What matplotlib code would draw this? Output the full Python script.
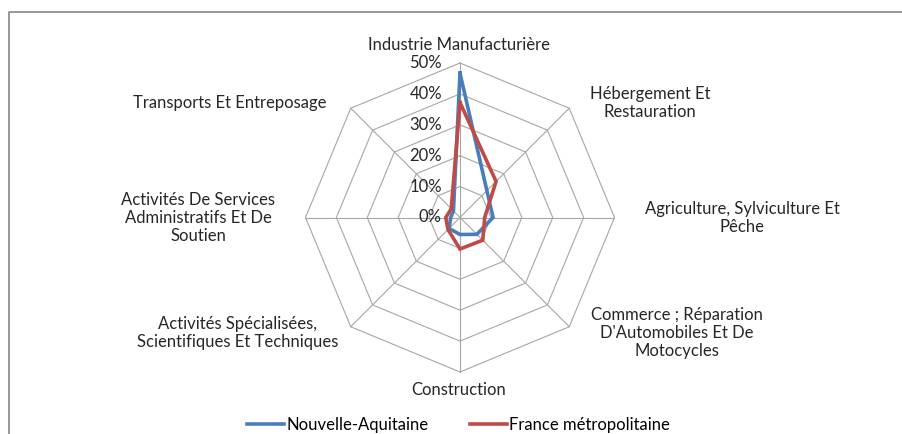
import numpy as np
import matplotlib.pyplot as plt
from matplotlib.lines import Line2D

plt.rcParams['font.family'] = ['Lato', 'DejaVu Sans']

# secteurs, dans le sens horaire en partant du haut
categories = [
    "Industrie Manufacturière",
    "Hébergement Et\nRestauration",
    "Agriculture, Sylviculture Et\nPêche",
    "Commerce ; Réparation\nD'Automobiles Et De\nMotocycles",
    "Construction",
    "Activités Spécialisées,\nScientifiques Et Techniques",
    "Activités De Services\nAdministratifs Et De\nSoutien",
    "Transports Et Entreposage",
]
nouvelle_aquitaine = [46.7, 12.3, 10.7, 7.7, 5.5, 5.0, 3.0, 3.0]
france_metro = [37.2, 16.5, 8.0, 10.4, 10.2, 5.5, 4.6, 4.0]
rings = [0, 10, 20, 30, 40, 50]
tick_labels = ["0%", "10%", "20%", "30%", "40%", "50%"]

W, H = 903, 434
cx, cy, R = 460, 217.5, 154.5          # centre et rayon du cercle 50% en pixels
s = rings[-1] / R                      # % par pixel
fs = 12

fig = plt.figure(figsize=(W / 100, H / 100), dpi=100)
ax = fig.add_axes([0, 0, 1, 1])
ax.set_xlim(-cx * s, (W - cx) * s)
ax.set_ylim(-(H - cy) * s, cy * s)
ax.axis('off')


def px(x, y):
    # position pixel -> coordonnées données
    return (x - cx) * s, (cy - y) * s


n = len(categories)
theta = np.arange(n) * 2 * np.pi / n
sx, sy = np.sin(theta), np.cos(theta)

grid_color = '#a6a6a6'
for r in rings[1:]:
    ax.plot(np.append(r * sx, r * sx[0]), np.append(r * sy, r * sy[0]),
            color=grid_color, lw=0.8, zorder=1)
for i in range(n):
    ax.plot([0, rings[-1] * sx[i]], [0, rings[-1] * sy[i]],
            color=grid_color, lw=0.8, zorder=1)

for vals, col in [(nouvelle_aquitaine, '#4a7ebb'), (france_metro, '#be4b48')]:
    v = np.array(vals + vals[:1])
    t = np.append(theta, theta[0])
    ax.plot(v * np.sin(t), v * np.cos(t), color=col, lw=2.6,
            solid_joinstyle='miter', zorder=3)

# graduations
for r, lab in zip(rings, tick_labels):
    x, _ = px(442, 0)
    ax.text(x, r, lab, ha='right', va='center', fontsize=fs, color='#262626')

# libellés des axes
label_pos = [(459, 45), (650, 103), (742, 218), (677, 333),
             (459, 390), (238, 333), (198, 218), (230, 103)]
for lab, (x, y) in zip(categories, label_pos):
    ax.text(*px(x, y), lab, ha='center', va='center', fontsize=fs,
            color='#262626', linespacing=1.15)

# cadre
ax.plot(*zip(px(9, H + 5), px(9, 11.5), px(W + 5, 11.5)), color='#868686',
        lw=1.2, clip_on=False)

handles = [Line2D([], [], color='#4a7ebb', lw=2.6),
           Line2D([], [], color='#be4b48', lw=2.6)]
fig.legend(handles, ["Nouvelle-Aquitaine", "France métropolitaine"],
           loc='center', bbox_to_anchor=(0.508, 1 - 425 / H), ncol=2,
           frameon=False, fontsize=fs, handlelength=2.2, handletextpad=0.15,
           columnspacing=2.5, borderpad=0)

fig.savefig('out.png', dpi=100)
